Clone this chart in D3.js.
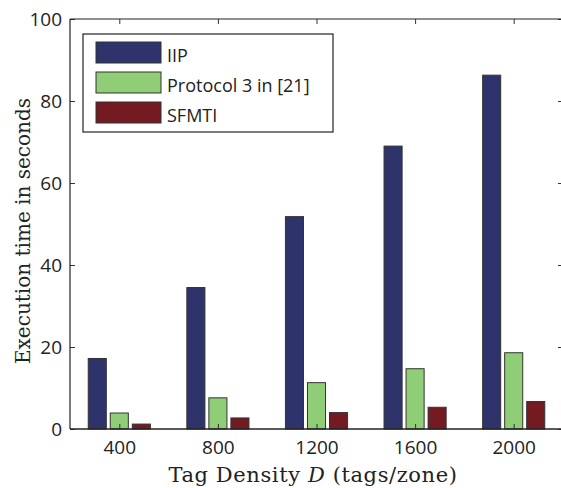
<!DOCTYPE html>
<html>
<head>
<meta charset="utf-8">
<script src="https://cdn.jsdelivr.net/npm/d3@7"></script>
<style>
  body { margin: 0; background: #fff; }
  svg { display: block; }
</style>
</head>
<body>
<script>
// data
var categories = ["400", "800", "1200", "1600", "2000"];
var seriesNames = ["IIP", "Protocol 3 in [21]", "SFMTI"];
var iip = [17.2, 34.5, 51.8, 69.0, 86.3];
var protocol3 = [3.9, 7.6, 11.3, 14.7, 18.6];
var sfmti = [1.2, 2.7, 4.0, 5.3, 6.7];
var yTicks = [0, 20, 40, 60, 80, 100];

var colors = ["#2e346b", "#8fce76", "#731b20"];
var seriesValues = [iip, protocol3, sfmti];

var W = 561, H = 488;
// plot box (note: "top" is reserved on window, so use prefixed names)
var pLeft = 70, pRight = 563, pTop = 19, pBottom = 429;

var svg = d3.select("body").append("svg").attr("width", W).attr("height", H);

var x0 = d3.scaleBand()
  .domain(categories)
  .range([pLeft, pRight])
  .paddingInner(0.37)
  .paddingOuter(0.185);

var x1 = d3.scaleBand()
  .domain(d3.range(seriesNames.length))
  .range([0, x0.bandwidth()])
  .paddingInner(0.18)
  .paddingOuter(0);

var y = d3.scaleLinear().domain([0, 100]).range([pBottom, pTop]);

//Bars
var groups = svg.selectAll("g.grp")
  .data(categories)
  .enter()
  .append("g")
  .attr("class", "grp")
  .attr("transform", function (d) { return "translate(" + x0(d) + ",0)"; });

groups.selectAll("rect")
  .data(function (d, i) {
    return seriesValues.map(function (s, k) { return { k: k, v: s[i] }; });
  })
  .enter()
  .append("rect")
  .attr("x", function (d) { return x1(d.k); })
  .attr("y", function (d) { return y(d.v); })
  .attr("width", x1.bandwidth())
  .attr("height", function (d) { return y(0) - y(d.v); })
  .attr("fill", function (d) { return colors[d.k]; })
  .attr("stroke", "#333")
  .attr("stroke-width", 1);

//Axes (ticks point inward, box on all four sides)
var tickFont = "'Open Sans', 'Noto Sans', sans-serif";
var xCenter = function (d) { return x0(d) + x0.bandwidth() / 2; };
var xPts = d3.scalePoint().domain(categories)
  .range([xCenter(categories[0]), xCenter(categories[categories.length - 1])]);

var xAxisB = d3.axisBottom(xPts).tickSize(-5).tickPadding(12);
var xAxisT = d3.axisTop(xPts).tickSize(-5).tickFormat("");
var yAxisL = d3.axisLeft(y).tickValues(yTicks).tickSize(-5).tickPadding(8);
var yAxisR = d3.axisRight(y).tickValues(yTicks).tickSize(-5).tickFormat("");

var gxb = svg.append("g").attr("transform", "translate(0," + pBottom + ")").call(xAxisB);
var gxt = svg.append("g").attr("transform", "translate(0," + pTop + ")").call(xAxisT);
var gyl = svg.append("g").attr("transform", "translate(" + pLeft + ",0)").call(yAxisL);
var gyr = svg.append("g").attr("transform", "translate(" + pRight + ",0)").call(yAxisR);

[gxb, gxt, gyl, gyr].forEach(function (g) {
  g.select(".domain").remove();
  g.selectAll("line").attr("stroke", "#333");
  g.selectAll("text")
    .attr("font-family", tickFont)
    .attr("font-size", "19px")
    .attr("fill", "#222");
});

// frame lines
svg.append("line").attr("x1", pLeft).attr("x2", pRight).attr("y1", pBottom).attr("y2", pBottom)
  .attr("stroke", "#222").attr("stroke-width", 1.4);
svg.append("line").attr("x1", pLeft).attr("x2", pRight).attr("y1", pTop).attr("y2", pTop)
  .attr("stroke", "#222").attr("stroke-width", 1.2);
svg.append("line").attr("x1", pLeft).attr("x2", pLeft).attr("y1", pTop).attr("y2", pBottom)
  .attr("stroke", "#222").attr("stroke-width", 1.2);

//Axis titles
var xt = svg.append("text")
  .attr("x", 313)
  .attr("y", 482)
  .attr("text-anchor", "middle")
  .attr("font-family", "'DejaVu Serif', 'Liberation Serif', serif")
  .attr("font-size", "21px")
  .attr("letter-spacing", "0.6px")
  .attr("fill", "#222");
xt.append("tspan").text("Tag Density ");
xt.append("tspan").attr("font-style", "italic").text("D");
xt.append("tspan").text(" (tags/zone)");

svg.append("text")
  .attr("transform", "translate(30,231) rotate(-90)")
  .attr("text-anchor", "middle")
  .attr("font-family", "'DejaVu Serif', 'Liberation Serif', serif")
  .attr("font-size", "20px")
  .attr("fill", "#222")
  .text("Execution time in seconds");

//Legend
var legend = svg.append("g");
legend.append("rect")
  .attr("x", 83).attr("y", 34).attr("width", 250).attr("height", 98)
  .attr("fill", "#fff").attr("stroke", "#222").attr("stroke-width", 1.2);

var items = legend.selectAll("g.item")
  .data(seriesNames)
  .enter()
  .append("g")
  .attr("transform", function (d, i) { return "translate(96," + (42 + i * 30) + ")"; });

items.append("rect")
  .attr("width", 65).attr("height", 21)
  .attr("fill", function (d, i) { return colors[i]; })
  .attr("stroke", "#333");

items.append("text")
  .attr("x", 71).attr("y", 20)
  .attr("font-family", tickFont)
  .attr("font-size", "18px")
  .attr("fill", "#222")
  .text(function (d) { return d; });
</script>
</body>
</html>
